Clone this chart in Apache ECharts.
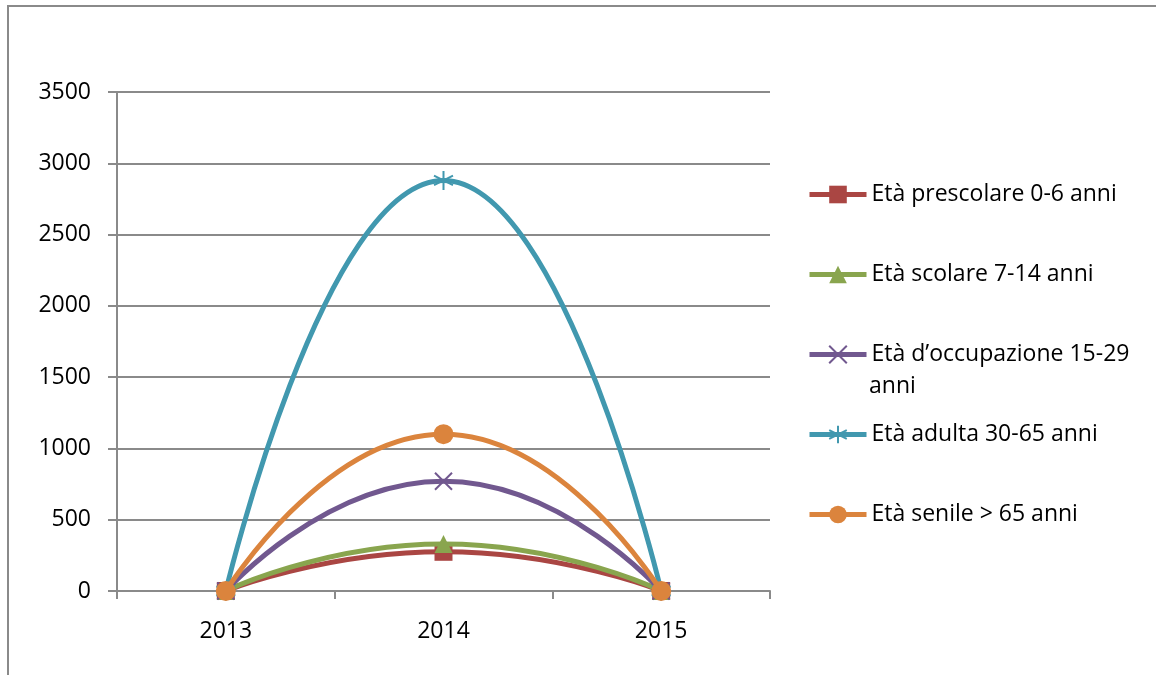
<!DOCTYPE html>
<html>
<head>
<meta charset="utf-8">
<script src="https://cdn.jsdelivr.net/npm/echarts@6/dist/echarts.min.js"></script>
<style>html,body{margin:0;padding:0;background:#fff;}#c{width:1156px;height:675px;}</style>
</head>
<body>
<div id="c"></div>
<script>
var categories = ['2013', '2014', '2015'];
var seriesNames = ['Età prescolare 0-6 anni', 'Età scolare 7-14 anni', 'Età d\u2019occupazione 15-29 anni', 'Età adulta 30-65 anni', 'Età senile > 65 anni'];
var prescolare = [0, 275, 0];
var scolare = [0, 330, 0];
var occupazione = [0, 770, 0];
var adulta = [0, 2880, 0];
var senile = [0, 1100, 0];
var yTicks = [0, 500, 1000, 1500, 2000, 2500, 3000, 3500];

var colors = ['#AA4643', '#89A54E', '#71588F', '#4198AF', '#DB843D'];
var symbols = ['rect', 'triangle',
  'path://M-10,-9L10,9M-10,9L10,-9',
  'path://M0,-12L0,12M-10.4,-6L10.4,6M-10.4,6L10.4,-6',
  'circle'];
var sizes = [18, 18, 17, 19, 20];
var dataSets = [prescolare, scolare, occupazione, adulta, senile];
var FONT = 'Open Sans';
var FS = 23;

var chart = echarts.init(document.getElementById('c'));
var series = dataSets.map(function (d, i) {
  var isStroke = (i === 2 || i === 3);
  return {
    name: seriesNames[i],
    type: 'line',
    data: d,
    smooth: 0.55,
    symbol: symbols[i],
    symbolSize: sizes[i],
    showAllSymbol: true,
    lineStyle: { color: colors[i], width: 5 },
    itemStyle: isStroke ? { color: colors[i], borderColor: colors[i], borderWidth: 2 } : { color: colors[i] },
    emphasis: { disabled: true },
    z: 2 + i
  };
});

var legendTops = [194, 274, 354, 434, 514];
var legends = seriesNames.map(function (n, i) {
  var lg = {
    data: [n],
    orient: 'vertical',
    left: 802,
    top: legendTops[i] - 16,
    itemWidth: 57,
    itemHeight: 22,
    itemGap: 0,
    selectedMode: false,
    lineStyle: { width: 5 },
    textStyle: { color: '#000', fontFamily: FONT, fontSize: FS }
  };
  if (i === 2) {
    lg.formatter = function () { return 'Età d\u2019occupazione 15-29'; };
  }
  return lg;
});

chart.setOption({
  animation: false,
  color: colors,
  graphic: [{
    type: 'rect',
    shape: { x: 8, y: 6, width: 1300, height: 800 },
    style: { fill: 'none', stroke: '#8a8a8a', lineWidth: 2 },
    silent: true
  }, {
    type: 'text',
    left: 869,
    top: 375,
    style: { text: 'anni', fill: '#000', font: FS + 'px "' + FONT + '"' },
    silent: true
  }],
  legend: legends,
  grid: { left: 117, right: 386, top: 92, bottom: 84, containLabel: false },
  xAxis: {
    type: 'category',
    data: categories,
    boundaryGap: true,
    axisLine: { lineStyle: { color: '#8a8a8a', width: 2 } },
    axisTick: { show: true, length: 8, alignWithLabel: false, lineStyle: { color: '#8a8a8a', width: 2 } },
    axisLabel: { color: '#000', fontFamily: FONT, fontSize: FS, margin: 29 },
    splitLine: { show: false }
  },
  yAxis: {
    type: 'value',
    min: yTicks[0],
    max: yTicks[yTicks.length - 1],
    interval: 500,
    axisLine: { show: true, lineStyle: { color: '#8a8a8a', width: 2 } },
    axisTick: { show: true, length: 9, lineStyle: { color: '#8a8a8a', width: 2 } },
    axisLabel: { color: '#000', fontFamily: FONT, fontSize: FS, margin: 26, formatter: function (v) { return String(v); } },
    splitLine: { show: true, lineStyle: { color: '#8a8a8a', width: 2 } }
  },
  series: series
});
</script>
</body>
</html>
